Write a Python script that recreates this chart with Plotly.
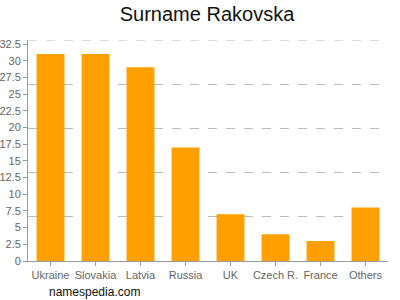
import plotly.graph_objects as go

categories = ["Ukraine", "Slovakia", "Latvia", "Russia", "UK", "Czech R.", "France", "Others"]
values = [31, 31, 29, 17, 7, 4, 3, 8]
tick_vals = [0, 2.5, 5, 7.5, 10, 12.5, 15, 17.5, 20, 22.5, 25, 27.5, 30, 32.5]
tick_text = ["0", "2.5", "5", "7.5", "10", "12.5", "15", "17.5", "20", "22.5", "25", "27.5", "30", "32.5"]
y_max = 33.1
grid_vals = [y_max * i / 5 for i in range(1, 6)]

fig = go.Figure()
fig.add_trace(go.Bar(x=categories, y=values, marker=dict(color="#ffa000", line=dict(width=0)),
                     hoverinfo="skip"))
fig.add_trace(go.Scatter(x=categories, y=[None]*len(categories), yaxis="y2", hoverinfo="skip"))
fig.update_layout(
    width=400, height=300,
    margin=dict(l=28, r=12, t=40, b=39),
    paper_bgcolor="white", plot_bgcolor="white",
    bargap=0.38,
    showlegend=False,
    font=dict(family="Liberation Sans, Arial, sans-serif", color="#666", size=11),
    title=dict(text="Surname Rakovska", x=0.5175, xanchor="center", y=0.953, yanchor="middle",
               font=dict(size=20, color="#111", family="Liberation Sans, Arial, sans-serif")),
    xaxis=dict(showline=True, linecolor="#999", linewidth=1, ticks="outside", ticklen=4,
               tickcolor="#999", showgrid=False, automargin=False,
               tickfont=dict(size=11, color="#666")),
    yaxis=dict(range=[0, y_max], tickvals=tick_vals, ticktext=tick_text, showgrid=False,
               showline=True, linecolor="#999", linewidth=1, ticks="outside", ticklen=4,
               tickcolor="#999", zeroline=False, automargin=False,
               tickfont=dict(size=11, color="#666")),
    yaxis2=dict(range=[0, y_max], overlaying="y", tickvals=grid_vals[:-1],
                showticklabels=False, showgrid=True, gridcolor="#bbb", griddash="dash",
                gridwidth=1, zeroline=False, showline=False, automargin=False),
    shapes=[dict(type="line", xref="paper", yref="y", x0=0, x1=1,
                 y0=grid_vals[-1], y1=grid_vals[-1], layer="below",
                 line=dict(color="#bbb", width=1, dash="dash"))],
    annotations=[dict(text="namespedia.com", x=(47 - 28) / 360, y=-(292 - 261) / 221,
                      xref="paper", yref="paper", xanchor="left", yanchor="middle",
                      showarrow=False, font=dict(size=12, color="#111"))],
)
fig.write_html("out.html")
